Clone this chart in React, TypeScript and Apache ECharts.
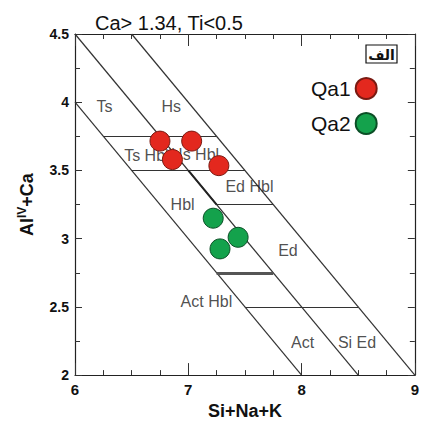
import React, { useEffect, useRef } from "react";
import * as echarts from "echarts";

// Axis ranges / ticks
const xRange = [6, 9];
const yRange = [2, 4.5];
const xTickStep = 1;
const yTickStep = 0.5;

// Sample points
const qa1X = [6.75, 7.03, 6.86, 7.27];
const qa1Y = [3.715, 3.715, 3.58, 3.535];
const qa2X = [7.22, 7.44, 7.28];
const qa2Y = [3.15, 3.01, 2.925];

// Field boundaries (segments: x1, y1, x2, y2)
const diagonalSegs = [
  [6, 4, 8, 2],
  [6, 4.5, 8.5, 2],
  [6.5, 4.5, 9, 2],
];
const horizontalSegs = [
  [6.25, 3.75, 7.25, 3.75],
  [6.5, 3.5, 7.5, 3.5],
  [7.25, 3.25, 7.75, 3.25],
  [7.5, 2.5, 8.5, 2.5],
];
const boldSegs = [[7.25, 2.75, 7.75, 2.75]];
const doubleSegs = [[7.0, 3.5, 7.25, 3.25]];

// Field names
const regionNames = ["Ts", "Hs", "Ts Hbl", "Hs Hbl", "Ed Hbl", "Hbl", "Ed", "Act Hbl", "Act", "Si Ed"];
const regionX = [6.26, 6.85, 6.63, 7.06, 7.54, 6.95, 7.88, 7.16, 8.01, 8.49];
const regionY = [3.97, 3.97, 3.61, 3.62, 3.38, 3.25, 2.91, 2.54, 2.24, 2.24];

const titleText = "Ca> 1.34, Ti<0.5";
const panelTag = "الف";

const FONT = "Liberation Sans, Arial, sans-serif";

function segData(segs: number[][]) {
  return segs.map((s) => ({ coords: [[s[0], s[1]], [s[2], s[3]]] }));
}

export default function App() {
  const ref = useRef<HTMLDivElement>(null);
  useEffect(() => {
    if (!ref.current) return;
    const chart = echarts.init(ref.current, undefined, { renderer: "svg" });
    const axisLine = { show: true, lineStyle: { color: "#222", width: 1.2 } };
    const xCommon = {
      type: "value" as const,
      min: xRange[0],
      max: xRange[1],
      interval: xTickStep,
      axisLine,
      axisTick: { show: true, inside: true, length: 12, lineStyle: { color: "#333", width: 1 } },
      minorTick: { show: true, splitNumber: 4, length: 5, lineStyle: { color: "#333", width: 1 } },
      splitLine: { show: false },
      minorSplitLine: { show: false },
    };
    const yCommon = {
      type: "value" as const,
      min: yRange[0],
      max: yRange[1],
      interval: yTickStep,
      axisLine,
      axisTick: { show: true, inside: true, length: 7, lineStyle: { color: "#333", width: 1 } },
      minorTick: { show: true, splitNumber: 2, length: 5, lineStyle: { color: "#333", width: 1 } },
      splitLine: { show: false },
      minorSplitLine: { show: false },
    };
    const lineStyleBase = { color: "#333", width: 1.2, opacity: 1 };
    chart.setOption({
      animation: false,
      backgroundColor: "#fff",
      title: {
        text: titleText,
        left: 90,
        top: 8,
        textStyle: { fontSize: 20, fontWeight: "normal", color: "#111", fontFamily: FONT },
      },
      grid: { left: 75, top: 34, width: 343.5, height: 348, show: false },
      legend: {
        data: ["Qa1", "Qa2"],
        orient: "vertical",
        left: 306,
        top: 72,
        align: "right",
        icon: "circle",
        itemWidth: 21,
        itemHeight: 21,
        itemGap: 12,
        textStyle: { fontSize: 21, color: "#111", fontFamily: FONT },
      },
      xAxis: [
        {
          ...xCommon,
          position: "bottom",
          axisLabel: { show: true, fontSize: 15, fontWeight: "bold", color: "#111", fontFamily: FONT, margin: 7 },
          name: "Si+Na+K",
          nameLocation: "middle",
          nameGap: 25,
          nameTextStyle: { fontSize: 18, fontWeight: "bold", color: "#111", fontFamily: FONT },
        },
        { ...xCommon, position: "top", axisLabel: { show: false } },
      ],
      yAxis: [
        {
          ...yCommon,
          position: "left",
          axisLabel: { show: true, fontSize: 14, fontWeight: "bold", color: "#111", fontFamily: FONT, margin: 6 },
          name: "{a|Al}{b|IV}{a|+Ca}",
          nameLocation: "middle",
          nameGap: 37,
          nameTextStyle: {
            fontFamily: FONT,
            rich: {
              a: { fontSize: 18, fontWeight: "bold", color: "#111", fontFamily: FONT, lineHeight: 22 },
              b: { fontSize: 12, fontWeight: "bold", color: "#111", fontFamily: FONT, padding: [0, 0, 10, 0], lineHeight: 22 },
            },
          },
        },
        { ...yCommon, position: "right", axisLabel: { show: false } },
      ],
      graphic: [
        {
          type: "rect",
          shape: { x: 366, y: 45, width: 31, height: 18 },
          style: { fill: "#fff", stroke: "#111", lineWidth: 1.2 },
          z: 10,
        },
        {
          type: "text",
          x: 381.5,
          y: 54.5,
          style: {
            text: panelTag,
            fontSize: 14,
            fontWeight: "bold",
            fontFamily: "DejaVu Sans",
            fill: "#111",
            textAlign: "center",
            textVerticalAlign: "middle",
          },
          z: 11,
        },
      ],
      series: [
        {
          type: "lines",
          coordinateSystem: "cartesian2d",
          polyline: false,
          silent: true,
          lineStyle: lineStyleBase,
          data: segData(diagonalSegs),
          z: 2,
        },
        {
          type: "lines",
          coordinateSystem: "cartesian2d",
          polyline: false,
          silent: true,
          lineStyle: lineStyleBase,
          data: segData(horizontalSegs),
          z: 2,
        },
        {
          type: "lines",
          coordinateSystem: "cartesian2d",
          polyline: false,
          silent: true,
          lineStyle: { color: "#555", width: 3, opacity: 1 },
          data: segData(boldSegs),
          z: 2,
        },
        {
          type: "lines",
          coordinateSystem: "cartesian2d",
          polyline: false,
          silent: true,
          lineStyle: { color: "#222", width: 2, opacity: 1 },
          data: segData(doubleSegs),
          z: 2,
        },
        {
          type: "scatter",
          name: "fields",
          symbolSize: 0,
          silent: true,
          label: {
            show: true,
            position: "inside",
            formatter: "{b}",
            fontSize: 16,
            color: "#222",
            fontFamily: FONT,
          },
          data: regionNames.map((n, i) => ({ name: n, value: [regionX[i], regionY[i]] })),
          z: 3,
        },
        {
          type: "scatter",
          name: "Qa1",
          symbol: "circle",
          symbolSize: 20,
          itemStyle: { color: "#E3281E", borderColor: "#7a1a12", borderWidth: 1, opacity: 1 },
          data: qa1X.map((x, i) => [x, qa1Y[i]]),
          z: 5,
        },
        {
          type: "scatter",
          name: "Qa2",
          symbol: "circle",
          symbolSize: 20,
          itemStyle: { color: "#14A24C", borderColor: "#0b4f26", borderWidth: 1, opacity: 1 },
          data: qa2X.map((x, i) => [x, qa2Y[i]]),
          z: 5,
        },
      ],
    });
    return () => chart.dispose();
  }, []);
  return (
    <div
      ref={ref}
      style={{ position: "fixed", left: 0, top: 0, width: 422, height: 425, background: "#fff" }}
    />
  );
}
